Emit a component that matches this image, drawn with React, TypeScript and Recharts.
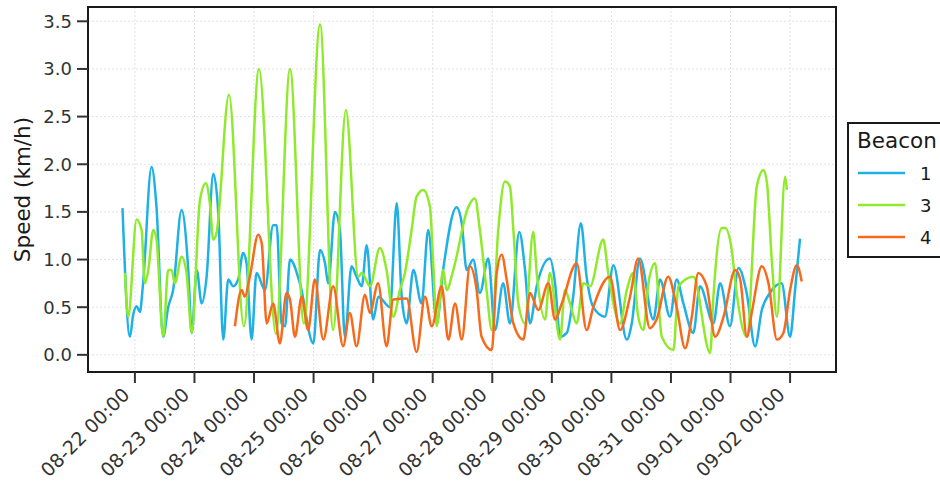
import { LineChart, Line, XAxis, YAxis, CartesianGrid, ReferenceArea, Label } from 'recharts';

// hours since 08-22 00:00, speed in km/h
const beacon1: [number, number][] = [
  [-5, 1.54], [-2, 0.19], [-0.7, 0.42], [0.7, 0.51], [2, 0.45], [3.2, 0.72], [6.7, 1.97], [8.7, 1.55],
  [11.4, 0.19], [13.4, 0.5], [15.4, 0.68], [18.8, 1.52], [21.5, 0.89], [22.9, 0.23], [24.9, 0.89], [26.9, 0.54],
  [28.9, 0.82], [31.6, 1.9], [33.6, 1.49], [35.6, 0.16], [37.6, 0.79], [39.6, 0.72], [41.6, 0.79], [43.6, 1.07],
  [45, 0.96], [47, 0.16], [49, 0.86], [52.4, 0.68], [55.7, 1.36], [57.1, 1.36], [59.1, 0.33], [60.5, 0.3],
  [62.5, 1.0], [66.5, 0.75], [71.9, 0.12], [74.6, 1.1], [76.6, 0.96], [77.9, 0.75], [80.6, 1.5], [82.6, 1.31],
  [84.6, 0.19], [87.3, 0.93], [89.3, 0.82], [91.4, 0.72], [93.4, 1.15], [96, 0.37], [98.1, 0.61], [102.8, 0.5],
  [105.5, 1.59], [107.5, 0.61], [109.5, 0.33], [112.2, 0.89], [115.5, 0.54], [118.2, 1.31], [121.6, 0.33], [124.2, 0.89],
  [129.6, 1.55], [131.7, 1.38], [133.7, 0.89], [136.3, 1.0], [139, 0.65], [142.4, 1.01], [145.1, 0.26], [148.4, 0.75],
  [151.1, 0.33], [154.9, 1.29], [157.2, 0.89], [159.2, 0.33], [161.9, 0.72], [167.2, 1.01], [169.3, 0.75], [171.3, 0.19],
  [174, 0.23], [176.6, 0.61], [179.7, 1.38], [182, 0.82], [184.7, 0.5], [189.4, 0.4], [192.8, 0.94], [198.2, 0.16],
  [200.2, 0.33], [203.5, 1.01], [208.9, 0.37], [211.6, 0.79], [215.6, 0.4], [218.3, 0.79], [221, 0.54], [225, 0.23],
  [227.7, 0.72], [233.1, 0.33], [235.8, 0.75], [239.8, 0.3], [243.2, 0.91], [246.5, 0.65], [249.9, 0.09], [252.6, 0.47],
  [255.9, 0.65], [260.6, 0.75], [264, 0.19], [266, 0.68], [268, 1.22],
];

const beacon3: [number, number][] = [
  [-4, 0.86], [-2.7, 0.4], [0.7, 1.42], [2.7, 1.31], [4, 0.75], [5.4, 0.89], [7.4, 1.31], [8.7, 1.21],
  [11.4, 0.19], [13.4, 0.89], [14.8, 0.89], [16.1, 0.75], [18.8, 1.03], [20.8, 0.86], [22.9, 0.23], [26.2, 1.62],
  [28.6, 1.8], [30.2, 1.59], [31.6, 1.21], [32.9, 1.28], [37.9, 2.73], [43.9, 0.3], [50, 3.0], [56.8, 0.22],
  [62.5, 3.0], [68.1, 0.33], [74.6, 3.47], [79.9, 0.26], [85, 2.57], [90, 0.82], [91.5, 0.86], [94.7, 0.72],
  [98.7, 1.12], [101.4, 0.89], [104.1, 0.4], [106.8, 0.68], [108.8, 0.86], [111.5, 1.31], [113.5, 1.66], [116.2, 1.73],
  [118.9, 1.55], [120.2, 0.96], [121.6, 0.3], [124.2, 0.89], [125.6, 0.68], [128.3, 0.89], [134.3, 1.55], [137, 1.64],
  [139, 1.31], [141.7, 0.68], [143.8, 0.26], [146.4, 1.31], [149.1, 1.82], [151.1, 1.77], [152.5, 1.31], [154.5, 0.54],
  [157.2, 0.33], [160.5, 1.29], [161.9, 0.86], [165.3, 0.37], [167.2, 0.86], [171.3, 0.16], [173.3, 0.68], [175.3, 0.54],
  [178, 0.33], [180.7, 0.75], [183.4, 0.72], [188.7, 1.21], [190.7, 0.86], [195.5, 0.33], [198.2, 0.68], [200.8, 0.86],
  [202.8, 0.4], [204.9, 0.26], [206.9, 0.75], [209.6, 0.96], [212.3, 0.19], [217, 0.05], [219, 0.72], [225, 0.82],
  [231.8, 0.02], [233.1, 0.61], [236.5, 1.33], [237.8, 1.33], [240.5, 1.1], [241.8, 0.79], [246.6, 0.19], [250.6, 1.77],
  [253.3, 1.94], [254.7, 1.8], [256.7, 0.96], [258.7, 0.4], [262, 1.87], [262.7, 1.73],
];

const beacon4: [number, number][] = [
  [40.3, 0.3], [43, 0.68], [44.3, 0.61], [46.3, 0.82], [49.7, 1.26], [51.1, 1.17], [53.1, 0.33], [55.7, 0.54],
  [58.4, 0.12], [61.1, 0.65], [62.5, 0.58], [64.5, 0.19], [67.2, 0.61], [69.8, 0.26], [72.5, 0.79], [75.9, 0.16],
  [79.9, 0.72], [83.9, 0.09], [86.6, 0.44], [89.3, 0.09], [92.7, 0.63], [94.7, 0.44], [98, 0.75], [101.4, 0.09],
  [104.1, 0.58], [109.5, 0.59], [113.5, 0.03], [116.9, 0.61], [119.6, 0.3], [123.6, 0.72], [126.3, 0.16], [129, 0.54],
  [131.7, 0.16], [135, 0.93], [137.7, 0.68], [139.7, 0.19], [143.8, 0.05], [145.8, 0.86], [147.8, 1.05], [149.8, 0.79],
  [152.5, 0.33], [156.5, 0.16], [159.2, 0.65], [162.5, 0.47], [166.6, 0.75], [169.3, 0.37], [172, 0.54], [178, 0.96],
  [182, 0.26], [184.7, 0.5], [191.4, 0.82], [195.5, 0.26], [199.5, 0.61], [202.8, 1.01], [207.5, 0.28], [210.2, 0.37],
  [214.9, 0.82], [218.3, 0.5], [221.7, 0.07], [224.4, 0.4], [227, 0.86], [230.4, 0.72], [233.8, 0.19], [237.2, 0.4],
  [241.9, 0.89], [243.9, 0.79], [246.6, 0.19], [248.6, 0.45], [252.6, 0.93], [255.3, 0.75], [258.7, 0.16], [261.3, 0.23],
  [264, 0.68], [266.7, 0.94], [268.7, 0.77],
];

const xTicks = [0, 24, 48, 72, 96, 120, 144, 168, 192, 216, 240, 264];
const xTickLabels = [
  '08-22 00:00', '08-23 00:00', '08-24 00:00', '08-25 00:00', '08-26 00:00', '08-27 00:00',
  '08-28 00:00', '08-29 00:00', '08-30 00:00', '08-31 00:00', '09-01 00:00', '09-02 00:00',
];
const yTicks = [0, 0.5, 1, 1.5, 2, 2.5, 3, 3.5];

const X_MIN = -18.9;
const X_MAX = 282.5;
const Y_MIN = -0.18;
const Y_MAX = 3.65;

const FONT = '"DejaVu Sans", sans-serif';
const INK = '#1a1a1a';

const series = [
  { name: '1', color: '#1FB1E6', data: beacon1 },
  { name: '3', color: '#8FEA2C', data: beacon3 },
  { name: '4', color: '#F76A1C', data: beacon4 },
];

const toPoints = (pairs: [number, number][]) => pairs.map(([t, v]) => ({ t, v }));

// rotated date labels, end of text sits just left of the tick
const DateTick = ({ x, y, payload }: any) => {
  const i = xTicks.indexOf(payload.value);
  const ax = x - 4;
  const ay = y + 11;
  return (
    <text
      x={ax}
      y={ay}
      textAnchor="end"
      transform={`rotate(-45 ${ax} ${ay})`}
      fill="#333"
      fontSize={19}
      fontFamily={FONT}
    >
      {xTickLabels[i] ?? ''}
    </text>
  );
};

const SpeedLabel = ({ viewBox }: any) => {
  const cx = viewBox.x + 22;
  const cy = viewBox.y + viewBox.height / 2;
  return (
    <text
      x={cx}
      y={cy}
      textAnchor="middle"
      dominantBaseline="central"
      transform={`rotate(-90 ${cx} ${cy})`}
      fill={INK}
      fontSize={21.5}
      fontFamily={FONT}
    >
      Speed (km/h)
    </text>
  );
};

function BeaconLegend() {
  return (
    <svg width={100} height={140} style={{ position: 'absolute', left: 847, top: 122 }}>
      <rect x={1} y={1} width={130} height={134} fill="#fff" stroke={INK} strokeWidth={2} />
      <text x={10} y={26} fontSize={21.5} fontFamily={FONT} fill={INK}>Beacon</text>
      {series.map((s, i) => {
        const cy = 51 + i * 32;
        return (
          <g key={s.name}>
            <line x1={11} x2={58} y1={cy} y2={cy} stroke={s.color} strokeWidth={2.5} />
            <text x={73} y={cy} dominantBaseline="central" fontSize={18} fontFamily={FONT} fill={INK}>
              {s.name}
            </text>
          </g>
        );
      })}
    </svg>
  );
}

export default function App() {
  return (
    <div
      style={{
        position: 'absolute',
        left: 0,
        top: 0,
        width: 940,
        height: 484,
        overflow: 'hidden',
        background: '#fff',
        fontFamily: FONT,
      }}
    >
      <LineChart width={940} height={484} margin={{ top: 7, right: 104, bottom: 0, left: 0 }}>
        <CartesianGrid stroke="#e2e2e2" strokeDasharray="2 2" />
        <XAxis
          type="number"
          dataKey="t"
          domain={[X_MIN, X_MAX]}
          ticks={xTicks}
          interval={0}
          allowDataOverflow
          height={112}
          tickSize={11}
          tickMargin={2}
          axisLine={false}
          tickLine={{ stroke: '#333', strokeWidth: 2 }}
          tick={<DateTick />}
        />
        <YAxis
          type="number"
          domain={[Y_MIN, Y_MAX]}
          ticks={yTicks}
          interval={0}
          allowDataOverflow
          width={88}
          tickSize={11}
          tickMargin={5}
          axisLine={false}
          tickLine={{ stroke: '#333', strokeWidth: 2 }}
          tickFormatter={(v: number) => v.toFixed(1)}
          tick={{ fill: '#333', fontSize: 18, fontFamily: FONT }}
        >
          <Label content={<SpeedLabel />} />
        </YAxis>
        {series.map((s) => (
          <Line
            key={s.name}
            data={toPoints(s.data)}
            dataKey="v"
            type="monotone"
            stroke={s.color}
            strokeWidth={2.5}
            dot={false}
            activeDot={false}
            isAnimationActive={false}
          />
        ))}
        <ReferenceArea
          x1={X_MIN}
          x2={X_MAX}
          y1={Y_MIN}
          y2={Y_MAX}
          fill="none"
          stroke={INK}
          strokeWidth={2}
          ifOverflow="visible"
        />
      </LineChart>
      <BeaconLegend />
    </div>
  );
}
